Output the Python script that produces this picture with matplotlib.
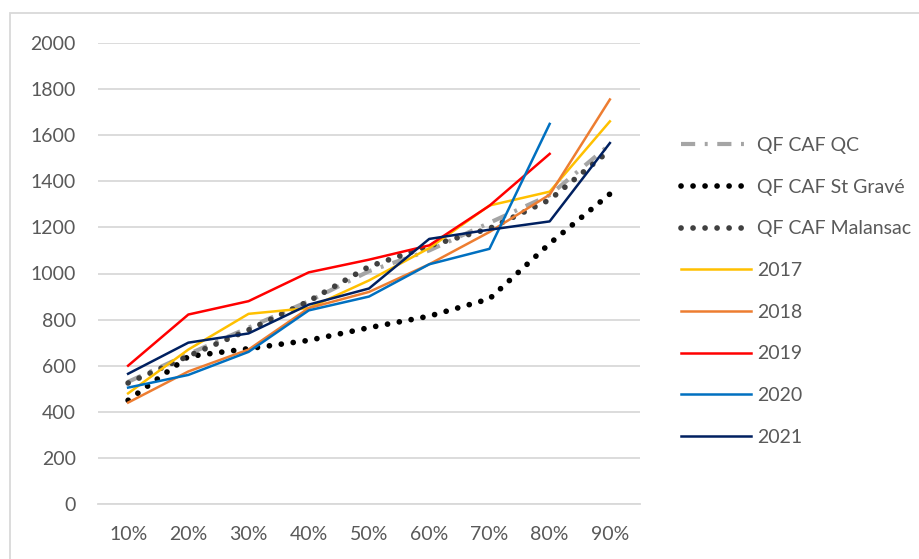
import matplotlib.pyplot as plt
from matplotlib.patches import Rectangle

# déciles et séries de quotient familial
deciles = ["10%", "20%", "30%", "40%", "50%", "60%", "70%", "80%", "90%"]
qf_qc = [530, 650, 765, 880, 1010, 1100, 1220, 1340, 1560]
qf_st_grave = [450, 640, 674, 710, 765, 815, 890, 1130, 1345]
qf_malansac = [525, 642, 755, 880, 1030, 1120, 1195, 1320, 1535]
annee_2017 = [480, 670, 825, 850, 970, 1110, 1295, 1355, 1660]
annee_2018 = [440, 575, 670, 850, 920, 1040, 1180, 1342, 1755]
annee_2019 = [600, 822, 880, 1005, 1060, 1122, 1294, 1519, None]
annee_2020 = [505, 560, 660, 840, 900, 1040, 1107, 1649, None]
annee_2021 = [565, 700, 740, 865, 935, 1150, 1190, 1226, 1566]

plt.rcParams["font.family"] = ["Lato", "DejaVu Sans"]

fig = plt.figure(figsize=(9.2, 5.59), dpi=100)
ax = fig.add_axes([98 / 920, 1 - 504 / 559, 542 / 920, 461 / 559])

x = list(range(len(deciles)))


def trace(valeurs, **kw):
    xs = [i for i, v in zip(x, valeurs) if v is not None]
    ys = [v for v in valeurs if v is not None]
    return ax.plot(xs, ys, **kw)[0]


trace(qf_qc, color="#A5A5A5", lw=3.0, ls=(0, (3.4, 2.3, 0.7, 2.3)),
      dash_capstyle="butt", label="QF CAF QC")
trace(qf_st_grave, color="#000000", lw=4.1, ls=(0, (0.01, 2.1)),
      dash_capstyle="round", label="QF CAF St Gravé")
trace(qf_malansac, color="#404040", lw=4.1, ls=(0, (0.01, 2.1)),
      dash_capstyle="round", label="QF CAF Malansac")
trace(annee_2017, color="#FFC000", lw=1.8, label="2017")
trace(annee_2018, color="#ED7D31", lw=1.8, label="2018")
trace(annee_2019, color="#FF0000", lw=1.8, label="2019")
trace(annee_2020, color="#0070C0", lw=1.8, label="2020")
trace(annee_2021, color="#002060", lw=1.8, label="2021")

ax.set_xlim(-0.5, len(deciles) - 0.5)
ax.set_ylim(0, 2000)
ax.set_yticks(range(0, 2001, 200))
ax.set_xticks(x)
ax.set_xticklabels(deciles)
ax.grid(axis="y", color="#D9D9D9", lw=1.3)
ax.set_axisbelow(True)
for s in ["top", "right", "left"]:
    ax.spines[s].set_visible(False)
ax.spines["bottom"].set_color("#D9D9D9")
ax.spines["bottom"].set_linewidth(1.3)
ax.tick_params(length=0, labelsize=14, labelcolor="#595959")
ax.tick_params(axis="y", pad=16)
ax.tick_params(axis="x", pad=16)

leg = ax.legend(loc="upper left", bbox_to_anchor=(681 / 920, 1 - 137 / 559),
                bbox_transform=fig.transFigure, frameon=False, fontsize=14,
                handlelength=3.6, handletextpad=0.32, labelspacing=1.27,
                borderaxespad=0, borderpad=0)
for t in leg.get_texts():
    t.set_color("#595959")

# cadre de la zone de graphique
fig.patches.append(Rectangle((10 / 920, -0.1), 1.0, 1 - 13 / 559 + 0.1,
                             transform=fig.transFigure, fill=False,
                             edgecolor="#D9D9D9", lw=1.3))

fig.savefig("out.png", dpi=100)
